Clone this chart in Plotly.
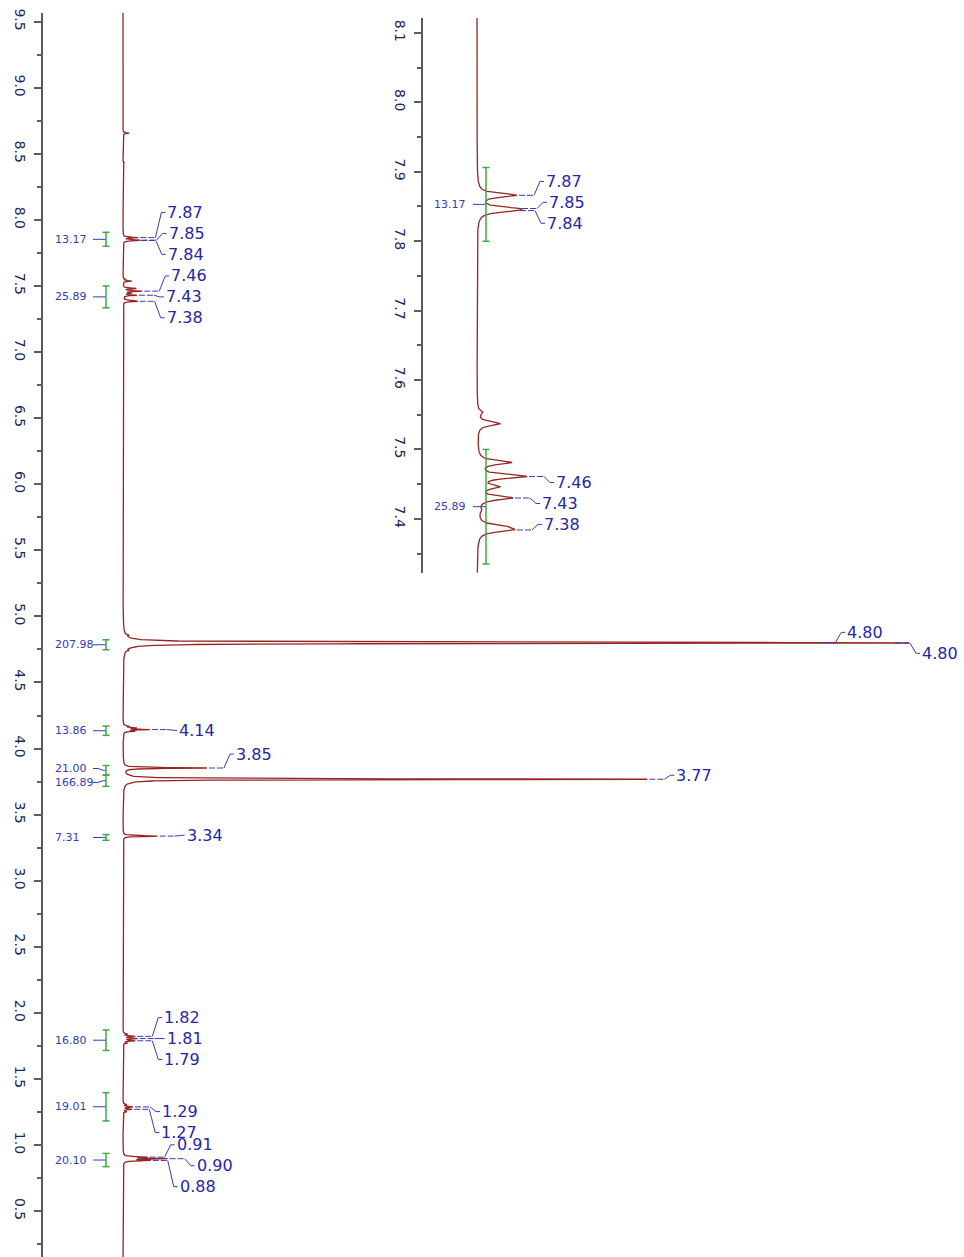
import numpy as np
import plotly.graph_objects as go

# ---------------------------------------------------------------------------
# 1H NMR peak list: chemical shift (ppm) and apex intensity (% of tallest line)
# ---------------------------------------------------------------------------
peak_ppm = [8.656, 8.434,
            7.866, 7.847, 7.844,
            7.553, 7.537, 7.481, 7.461, 7.446, 7.430, 7.412, 7.389, 7.384,
            4.858, 4.802, 4.798, 4.742,
            4.170, 4.157, 4.144, 4.131,
            3.853, 3.768, 3.738, 3.338,
            1.840, 1.823, 1.806, 1.789, 1.772,
            1.307, 1.289, 1.271, 1.253,
            0.909, 0.897, 0.884]
peak_height = [0.8, 0.15,
               2.0, 2.15, 2.05,
               0.3, 1.15, 1.75, 2.5, 1.15, 1.8, 0.25, 1.55, 1.9,
               0.8, 90.3, 100.0, 0.8,
               0.8, 1.8, 3.5, 1.6,
               10.9, 68.1, 0.9, 4.5,
               0.6, 1.6, 1.9, 1.6, 0.6,
               0.5, 1.3, 1.2, 0.5,
               3.2, 5.8, 3.6]
line_hwhm = 0.0032  # Lorentzian half width (ppm)

# Integral regions (ppm) and their values
integral_from = [7.906, 7.500, 4.823, 4.170, 3.872, 3.800, 3.349, 1.871, 1.397, 0.937]
integral_to = [7.800, 7.335, 4.748, 4.100, 3.800, 3.714, 3.306, 1.716, 1.183, 0.837]
integral_value = [13.17, 25.89, 207.98, 13.86, 21.00, 166.89, 7.31, 16.80, 19.01, 20.10]

# Peaks carrying a shift label, grouped by multiplet
main_label_groups = [[7.866, 7.847, 7.844], [7.461, 7.430, 7.384], [4.802, 4.798],
                     [4.144], [3.853], [3.768], [3.338],
                     [1.823, 1.806, 1.789], [1.289, 1.271], [0.909, 0.897, 0.884]]
inset_label_groups = [[7.866, 7.847, 7.844], [7.461, 7.430, 7.384]]

# Axis tick labels
main_ticks = [9.5, 9.0, 8.5, 8.0, 7.5, 7.0, 6.5, 6.0, 5.5, 5.0, 4.5,
              4.0, 3.5, 3.0, 2.5, 2.0, 1.5, 1.0, 0.5]
inset_ticks = [8.1, 8.0, 7.9, 7.8, 7.7, 7.6, 7.5, 7.4]

# ---------------------------------------------------------------------------
# Layout constants (pixels)
# ---------------------------------------------------------------------------
W, H = 964, 1257
SPEC = "#962424"
BLUE = "#2626a4"
IBLUE = "#3a3ab2"
GREEN = "#3daa47"
AXIS = "#5c5c5c"
TICKFONT = dict(family="DejaVu Sans", size=14, color="#1c2858")
LABEL_STEP = 21
DY = -2.0  # global vertical offset of the drawing

# per-multiplet vertical label nudges (px)
main_nudges = [-6, 1, 0, 1, -14, -4, -1, 0, 14, 7]
inset_nudges = [-2.5, 2]


class Frame:
    """Pixel box of a subplot together with its data ranges."""

    def __init__(self, x0, x1, y0, y1, xr, yr):
        self.x0, self.x1, self.y0, self.y1 = x0, x1, y0, y1
        self.xr, self.yr = xr, yr

    def px_x(self, v):
        return self.x0 + (v - self.xr[0]) / (self.xr[1] - self.xr[0]) * (self.x1 - self.x0)

    def px_y(self, v):
        return self.y0 + (self.yr[1] - v) / (self.yr[1] - self.yr[0]) * (self.y1 - self.y0)

    def dx(self, p):
        return self.xr[0] + (p - self.x0) / (self.x1 - self.x0) * (self.xr[1] - self.xr[0])

    def dy(self, p):
        return self.yr[1] - (p - self.y0) / (self.y1 - self.y0) * (self.yr[1] - self.yr[0])

    def xdomain(self):
        return [self.x0 / W, self.x1 / W]

    def ydomain(self):
        return [1 - self.y1 / H, 1 - self.y0 / H]


# main spectrum: 9.5 ppm at y=18.7, 132.7 px per ppm; baseline at x=123, 7.7 px per unit
ppm_main = lambda y: 9.5 - (y - 18.7 - DY) / 132.7
main = Frame(43, W, 10 + DY, H, (-(123 - 43) / 7.7, (W - 123) / 7.7), (ppm_main(H), ppm_main(10 + DY)))
# expansion: 8.1 ppm at y=30, 697 px per ppm; baseline at x=477, 20 px per unit
ppm_ins = lambda y: 8.1 - (y - 30 - DY) / 697.0
inset = Frame(423, 700, 15 + DY, 572 + DY, (-(477 - 423) / 20.0, (700 - 477) / 20.0),
              (ppm_ins(572 + DY), ppm_ins(15 + DY)))

# ---------------------------------------------------------------------------
# Spectrum: Lorentzian lines whose apexes reach the listed heights
# ---------------------------------------------------------------------------
centers = np.array(peak_ppm)
tips = np.array(peak_height)


def lorentz(d):
    return line_hwhm ** 2 / (d ** 2 + line_hwhm ** 2)


amps = np.linalg.solve(lorentz(centers[:, None] - centers[None, :]), tips)
grid = np.unique(np.concatenate([np.arange(0.10, 9.65, 0.0004), centers]))
spectrum = (amps[None, :] * lorentz(grid[:, None] - centers[None, :])).sum(axis=1)


def apex(p):
    return float(np.interp(p, grid, spectrum))


fig = go.Figure()
fig.add_trace(go.Scatter(x=spectrum, y=grid, mode="lines", line=dict(color=SPEC, width=1.3),
                         xaxis="x", yaxis="y", hoverinfo="skip"))
sel = (grid > inset.yr[0] - 0.01) & (grid < inset.yr[1] + 0.01)
fig.add_trace(go.Scatter(x=spectrum[sel], y=grid[sel], mode="lines", line=dict(color=SPEC, width=1.3),
                         xaxis="x2", yaxis="y2", hoverinfo="skip"))

annotations = []


def add_peak_labels(fr, groups, nudges, xa, ya):
    hx, hy, sx, sy = [], [], [], []
    for grp, nudge in zip(groups, nudges):
        grp = sorted(grp, reverse=True)
        center = np.mean([fr.px_y(p) for p in grp]) + nudge
        n = len(grp)
        for k, p in enumerate(grp):
            tx = fr.px_x(apex(p))
            ly = center + (k - (n - 1) / 2) * LABEL_STEP
            hx += [fr.dx(tx + 2), fr.dx(tx + 17), None]
            hy += [p, p, None]
            sx += [fr.dx(tx + 17), fr.dx(tx + 23), fr.dx(tx + 27), None]
            sy += [p, fr.dy(ly), fr.dy(ly), None]
            annotations.append(dict(x=fr.dx(tx + 27), y=fr.dy(ly), xref=xa, yref=ya, text=f"{p:.2f}",
                                    showarrow=False, xanchor="left", yanchor="middle",
                                    font=dict(family="DejaVu Sans", size=16, color=BLUE)))
    fig.add_trace(go.Scatter(x=hx, y=hy, mode="lines", line=dict(color=IBLUE, width=1, dash="6px,2px"),
                             xaxis=xa, yaxis=ya, hoverinfo="skip"))
    fig.add_trace(go.Scatter(x=sx, y=sy, mode="lines", line=dict(color=IBLUE, width=1),
                             xaxis=xa, yaxis=ya, hoverinfo="skip"))


def spread(ys, gap):
    """Push label positions apart so that neighbours keep at least `gap` px."""
    order = np.argsort(ys)
    clusters = [[i] for i in order]
    changed = True
    pos = {}
    while changed:
        changed = False
        for c in clusters:
            m = np.mean([ys[i] for i in c])
            for k, i in enumerate(c):
                pos[i] = m + (k - (len(c) - 1) / 2) * gap
        for a in range(len(clusters) - 1):
            if pos[clusters[a][-1]] + gap > pos[clusters[a + 1][0]]:
                clusters[a] = clusters[a] + clusters[a + 1]
                del clusters[a + 1]
                changed = True
                break
    return [pos[i] for i in range(len(ys))]


def add_integrals(fr, bar_px, label_px, xa, ya):
    idx = [i for i in range(len(integral_value))
           if fr.yr[0] < integral_to[i] and integral_from[i] < fr.yr[1]]
    mids = [(fr.px_y(integral_from[i]) + fr.px_y(integral_to[i])) / 2 for i in idx]
    lys = spread(mids, 14)
    gx, gy, bx, by = [], [], [], []
    for i, mid, ly in zip(idx, mids, lys):
        top, bot = integral_from[i], integral_to[i]
        gx += [fr.dx(bar_px), fr.dx(bar_px), None,
               fr.dx(bar_px - 3.5), fr.dx(bar_px + 3.5), None,
               fr.dx(bar_px - 3.5), fr.dx(bar_px + 3.5), None]
        gy += [top, bot, None, top, top, None, bot, bot, None]
        bx += [fr.dx(bar_px - 13), fr.dx(bar_px - 8), fr.dx(bar_px - 3), fr.dx(bar_px), None]
        by += [fr.dy(ly), fr.dy(ly), fr.dy(mid), fr.dy(mid), None]
        annotations.append(dict(x=fr.dx(label_px), y=fr.dy(ly), xref=xa, yref=ya,
                                text=f"{integral_value[i]:.2f}", showarrow=False,
                                xanchor="left", yanchor="middle",
                                font=dict(family="DejaVu Sans", size=11, color=IBLUE)))
    fig.add_trace(go.Scatter(x=bx, y=by, mode="lines", line=dict(color=IBLUE, width=1),
                             xaxis=xa, yaxis=ya, hoverinfo="skip"))
    fig.add_trace(go.Scatter(x=gx, y=gy, mode="lines", line=dict(color=GREEN, width=1.5),
                             xaxis=xa, yaxis=ya, hoverinfo="skip"))


add_integrals(main, 106, 53, "x", "y")
add_integrals(inset, 486, 432, "x2", "y2")
add_peak_labels(main, main_label_groups, main_nudges, "x", "y")
add_peak_labels(inset, inset_label_groups, inset_nudges, "x2", "y2")


def yaxis_style(fr, ticks, anchor):
    return dict(domain=fr.ydomain(), range=list(fr.yr), anchor=anchor,
                tickmode="array", tickvals=ticks, ticktext=[f"{t:.1f}" for t in ticks],
                tickangle=90, tickfont=TICKFONT, ticks="outside", ticklen=7, tickwidth=1.5,
                tickcolor=AXIS, showline=True, linecolor=AXIS, linewidth=2,
                ticklabelstandoff=2,
                showgrid=False, zeroline=False, fixedrange=True,
                minor=dict(dtick=(ticks[0] - ticks[1]) / 2, tick0=ticks[-1], ticks="outside",
                           ticklen=4, tickwidth=1.5, tickcolor=AXIS, showgrid=False))


def xaxis_style(fr, anchor):
    return dict(domain=fr.xdomain(), range=list(fr.xr), anchor=anchor, visible=False,
                showgrid=False, zeroline=False, fixedrange=True)


fig.update_layout(
    width=W, height=H, margin=dict(l=0, r=0, t=0, b=0),
    paper_bgcolor="white", plot_bgcolor="rgba(0,0,0,0)", showlegend=False,
    xaxis=xaxis_style(main, "y"), yaxis=yaxis_style(main, main_ticks, "x"),
    xaxis2=xaxis_style(inset, "y2"), yaxis2=yaxis_style(inset, inset_ticks, "x2"),
    annotations=annotations,
)

fig.write_html("out.html")
